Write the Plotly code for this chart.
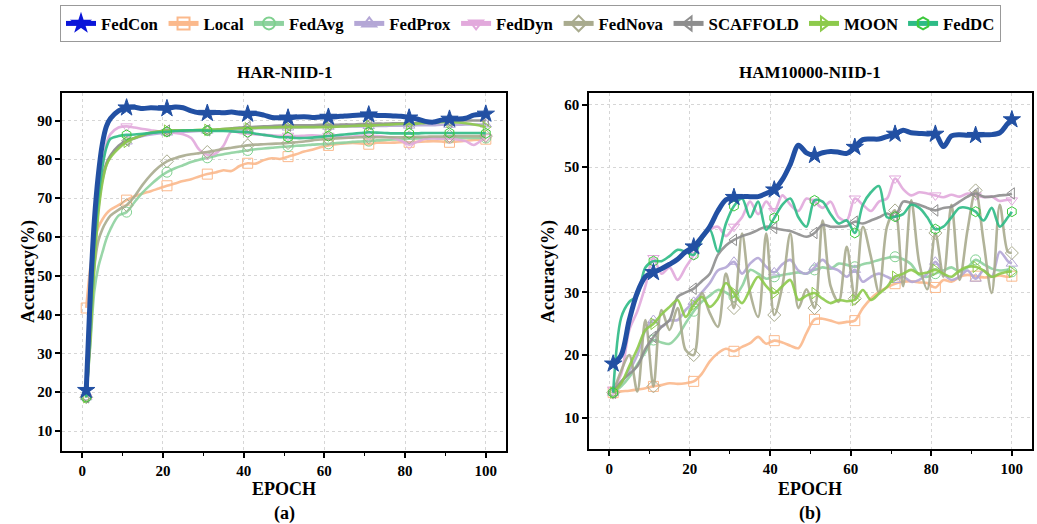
import plotly.graph_objects as go

# ---------------- data ----------------
EPOCHS_L = [1, 2, 3, 4, 5, 6, 7, 9] + list(range(11, 100, 2)) + [100]
EPOCHS_R = list(range(1, 100, 2)) + [100]
MARK_EPOCHS = [1, 11, 21, 31, 41, 51, 61, 71, 81, 91, 100]
X_TICKS = [0, 20, 40, 60, 80, 100]
X_MINOR = [10, 30, 50, 70, 90]

METHODS = ["FedCon", "Local", "FedAvg", "FedProx", "FedDyn", "FedNova", "SCAFFOLD", "MOON", "FedDC"]

# HAR-NIID-1
FedCon_L = [20.5, 45.0, 64.0, 76.0, 84.0, 88.5, 90.5, 92.5,
            93.3, 93.4, 93.1, 93.3, 93.2, 93.1, 93.5, 93.3, 92.5, 92.0,
            91.9, 92.1, 92.0, 92.2, 91.9, 91.7, 91.8, 91.4, 90.8, 90.7,
            90.7, 90.9, 91.0, 90.8, 90.9, 90.9, 91.0, 91.2, 91.3, 91.4,
            91.5, 91.3, 91.3, 91.2, 91.1, 90.7, 90.4, 89.8, 89.6, 90.1,
            90.4, 90.4, 90.6, 91.4, 91.6, 91.7]
Local_L = [41.7, 52.0, 59.0, 62.5, 64.5, 66.0, 67.0, 68.2,
           69.5, 70.5, 71.2, 71.8, 72.5, 73.2, 73.8, 74.4, 74.9, 75.6,
           76.2, 76.6, 77.2, 77.0, 78.3, 79.0, 78.9, 79.8, 80.3, 80.1,
           80.7, 81.3, 82.0, 82.5, 83.1, 83.6, 83.9, 84.1, 84.2, 84.1,
           83.9, 84.3, 84.3, 84.3, 84.4, 84.4, 84.5, 84.6, 84.7, 84.6,
           84.4, 84.6, 84.8, 85.0, 85.1, 85.2]
FedAvg_L = [18.7, 32.0, 46.0, 52.3, 56.0, 59.5, 62.0, 65.5,
            66.4, 69.0, 71.5, 73.5, 75.3, 76.7, 77.7, 78.5, 79.3, 79.9,
            80.4, 80.9, 81.3, 81.7, 82.0, 82.3, 82.6, 82.8, 83.0, 83.2,
            83.3, 83.5, 83.6, 83.8, 83.9, 84.0, 84.2, 84.3, 84.5, 84.6,
            84.7, 84.9, 85.0, 85.1, 85.2, 85.3, 85.4, 85.4, 85.5, 85.5,
            85.5, 85.5, 85.5, 85.5, 85.5, 85.5]
FedProx_L = [18.7, 34.0, 54.0, 67.0, 74.5, 78.5, 80.8, 83.2,
             84.6, 85.4, 86.0, 86.4, 86.7, 86.9, 87.0, 87.1, 87.2, 87.3,
             87.4, 87.5, 87.6, 87.7, 87.8, 87.9, 88.0, 88.0, 88.1, 88.1,
             88.2, 88.2, 88.3, 88.3, 88.4, 88.4, 88.4, 88.5, 88.5, 88.5,
             88.6, 88.6, 88.6, 88.7, 88.7, 88.7, 88.8, 88.8, 88.8, 88.9,
             88.9, 88.9, 89.0, 89.0, 89.0, 89.0]
FedDyn_L = [18.7, 40.0, 58.0, 70.0, 78.0, 84.0, 86.5, 88.2,
            88.5, 88.2, 87.8, 87.5, 87.2, 87.0, 86.8, 86.5, 85.5, 82.5,
            81.2, 81.5, 83.5, 87.2, 86.8, 86.6, 86.4, 86.3, 86.2, 86.1,
            86.1, 86.0, 86.1, 86.2, 86.1, 86.1, 86.0, 85.7, 85.9, 86.1,
            86.1, 86.0, 85.8, 85.5, 84.8, 83.8, 84.5, 85.3, 85.4, 85.3,
            85.3, 85.1, 84.7, 83.7, 85.0, 85.7]
FedNova_L = [18.7, 35.0, 52.0, 59.0, 62.0, 64.0, 65.5, 67.0,
             68.2, 70.5, 73.5, 76.0, 78.0, 79.5, 80.3, 80.9, 81.3, 81.6,
             81.9, 82.3, 82.7, 83.0, 83.3, 83.6, 83.8, 83.9, 84.0, 84.1,
             84.2, 84.4, 84.6, 84.9, 85.1, 85.3, 85.4, 85.5, 85.6, 85.7,
             85.7, 85.7, 85.7, 85.7, 85.7, 85.7, 85.8, 85.8, 85.9, 85.9,
             86.0, 86.0, 86.0, 86.0, 86.0, 86.0]
SCAFFOLD_L = [18.7, 35.0, 55.0, 68.0, 75.0, 79.0, 81.0, 83.5,
              84.8, 85.5, 86.2, 86.8, 87.2, 87.4, 87.5, 87.5, 87.5, 87.5,
              87.5, 87.6, 87.8, 88.0, 88.2, 88.3, 88.4, 88.5, 88.6, 88.7,
              88.7, 88.8, 88.8, 88.8, 88.9, 88.9, 88.9, 89.0, 89.0, 89.1,
              89.1, 89.2, 89.2, 89.3, 89.3, 89.3, 89.4, 89.5, 89.6, 89.7,
              89.8, 89.9, 90.0, 90.0, 90.0, 90.0]
MOON_L = [18.7, 33.0, 52.0, 66.0, 74.0, 78.5, 80.5, 82.8,
          84.5, 85.5, 86.3, 86.9, 87.2, 87.4, 87.5, 87.5, 87.5, 87.6,
          87.6, 87.7, 87.8, 87.9, 88.0, 88.0, 88.1, 88.2, 88.2, 88.3,
          88.3, 88.3, 88.3, 88.3, 88.3, 88.3, 88.4, 88.5, 88.6, 88.7,
          88.7, 88.8, 88.9, 89.0, 89.1, 89.1, 89.2, 89.4, 89.5, 89.6,
          89.6, 89.5, 89.3, 89.0, 88.6, 88.3]
FedDC_L = [18.7, 38.0, 58.0, 70.0, 78.0, 83.0, 85.3, 86.0,
           86.3, 86.4, 86.6, 86.8, 87.0, 87.1, 87.3, 87.4, 87.5, 87.5,
           87.4, 87.3, 87.3, 87.2, 87.1, 87.0, 86.6, 86.3, 86.0, 85.7,
           85.7, 85.5, 85.5, 85.6, 85.8, 86.0, 86.2, 86.4, 86.6, 86.8,
           87.0, 86.9, 86.8, 86.7, 86.7, 86.7, 86.7, 86.8, 86.8, 86.8,
           86.8, 86.8, 86.8, 86.8, 86.8, 86.7]

# HAM10000-NIID-1
FedCon_R = [18.6, 20.0, 25.6, 30.0, 32.5, 33.2, 33.8, 34.5, 35.3, 36.5,
            37.3, 38.8, 40.5, 43.0, 44.8, 45.2, 45.3, 45.3, 45.3, 45.8,
            46.4, 48.0, 50.5, 53.5, 52.3, 51.9, 52.3, 52.5, 52.4, 52.2,
            53.2, 54.4, 54.5, 54.5, 54.9, 55.3, 55.9, 55.5, 55.4, 55.3,
            55.3, 53.3, 55.0, 55.2, 55.1, 55.1, 55.2, 55.2, 55.5, 57.0, 57.6]
Local_R = [14.0, 14.2, 14.3, 14.5, 14.7, 15.0, 15.2, 15.5, 15.4, 15.5,
           15.8, 17.0, 19.0, 20.3, 21.0, 20.6, 21.3, 21.9, 22.9, 21.8,
           22.3, 22.0, 21.5, 21.1, 23.5, 25.7, 25.8, 25.5, 25.1, 25.3,
           25.5, 27.5, 29.0, 30.1, 30.8, 31.4, 31.7, 31.8, 31.6, 31.5,
           30.8, 32.0, 31.7, 32.5, 32.8, 32.6, 32.4, 32.5, 32.7, 32.5, 32.6]
FedAvg_R = [14.0, 15.0, 16.5, 18.5, 20.5, 22.4, 22.0, 21.8, 23.0, 25.1,
            27.0, 28.5, 29.5, 30.4, 30.0, 29.3, 31.0, 33.6, 33.0, 32.2,
            32.5, 32.8, 33.0, 33.2, 33.0, 33.6, 34.0, 33.8, 34.6, 34.4,
            34.1, 34.5, 34.8, 35.2, 35.5, 35.7, 35.3, 34.5, 32.8, 32.5,
            33.0, 33.5, 34.0, 33.3, 34.0, 35.2, 34.5, 33.8, 33.5, 33.6, 33.3]
FedProx_R = [14.0, 15.5, 17.5, 20.0, 24.0, 25.6, 24.5, 25.5, 25.6, 27.2,
             28.5, 30.0, 31.5, 33.5, 34.0, 34.9, 33.0, 34.6, 35.5, 34.1,
             33.2, 34.5, 35.2, 33.5, 33.0, 34.0, 35.2, 34.0, 33.5, 32.5,
             33.6, 31.7, 32.5, 33.0, 32.5, 32.0, 32.5, 31.7, 32.0, 33.0,
             34.9, 33.0, 32.0, 32.5, 33.5, 32.2, 33.5, 32.5, 36.5, 35.0, 34.6]
FedDyn_R = [14.5, 17.0, 24.0, 27.0, 31.0, 35.5, 33.0, 34.0, 32.0, 34.0,
            36.0, 38.5, 40.0, 40.5, 39.0, 40.5, 42.0, 44.5, 42.5, 44.5,
            43.0, 45.5, 44.0, 43.0, 45.0, 44.5, 43.5, 44.5, 42.0, 41.5,
            45.0, 44.0, 43.0, 44.5, 45.0, 48.2, 46.5, 45.5, 46.0, 45.8,
            45.5, 45.2, 45.6, 45.3, 45.8, 45.5, 45.2, 45.3, 44.6, 44.8, 44.7]
FedNova_R = [14.0, 17.5, 20.0, 14.2, 25.6, 15.0, 27.2, 24.0, 27.5, 20.8,
             20.0, 29.9, 26.7, 24.5, 33.0, 27.5, 39.4, 30.0, 26.1, 39.4,
             26.4, 31.0, 39.4, 27.5, 30.5, 27.5, 41.5, 31.0, 28.5, 37.3,
             29.0, 40.5, 35.7, 30.0, 40.5, 43.1, 31.0, 44.7, 34.7, 30.5,
             39.5, 32.5, 44.0, 32.0, 40.0, 46.3, 38.0, 29.9, 44.0, 36.5, 36.3]
SCAFFOLD_R = [14.0, 15.8, 17.0, 18.2, 21.0, 22.9, 24.5, 25.6, 29.3, 30.0,
              30.6, 31.8, 33.0, 36.0, 37.5, 38.4, 39.0, 39.4, 40.0, 40.5,
              40.3, 40.0, 39.8, 39.3, 38.9, 39.5, 40.8, 40.5, 40.5, 40.6,
              41.3, 41.0, 41.5, 42.0, 42.6, 42.1, 44.5, 44.3, 44.0, 43.5,
              43.1, 43.5, 43.7, 44.5, 45.3, 45.8, 45.3, 45.3, 45.5, 45.6, 45.8]
MOON_R = [14.0, 15.5, 18.2, 21.0, 24.0, 25.0, 26.5, 27.7, 28.8, 26.1,
          28.0, 29.3, 27.7, 29.0, 31.5, 29.9, 28.3, 30.5, 32.5, 31.0,
          29.9, 31.0, 32.0, 28.8, 29.5, 29.9, 29.0, 28.3, 28.8, 28.6,
          28.8, 30.4, 28.8, 29.8, 30.9, 32.5, 33.0, 33.6, 33.0, 33.2,
          33.6, 33.0, 32.5, 33.5, 34.1, 34.1, 33.5, 32.5, 33.0, 33.3, 33.3]
FedDC_R = [14.0, 26.0, 28.5, 29.5, 34.0, 35.0, 35.0, 35.8, 36.8, 36.5,
           36.0, 38.5, 40.0, 36.5, 41.0, 43.8, 45.0, 42.0, 44.5, 40.0,
           41.9, 44.0, 45.0, 42.0, 40.5, 44.7, 44.5, 42.5, 41.0, 41.5,
           39.5, 44.0, 46.0, 47.0, 42.0, 42.1, 42.5, 44.0, 43.5, 42.0,
           40.1, 40.5, 42.0, 43.5, 43.5, 42.9, 41.5, 43.5, 40.5, 42.0, 42.9]

DATA_L = {"FedCon": FedCon_L, "Local": Local_L, "FedAvg": FedAvg_L, "FedProx": FedProx_L,
          "FedDyn": FedDyn_L, "FedNova": FedNova_L, "SCAFFOLD": SCAFFOLD_L, "MOON": MOON_L,
          "FedDC": FedDC_L}
DATA_R = {"FedCon": FedCon_R, "Local": Local_R, "FedAvg": FedAvg_R, "FedProx": FedProx_R,
          "FedDyn": FedDyn_R, "FedNova": FedNova_R, "SCAFFOLD": SCAFFOLD_R, "MOON": MOON_R,
          "FedDC": FedDC_R}

# ---------------- styles ----------------
COLORS = {"FedCon": "#2250a3", "Local": "#fbb98c", "FedAvg": "#8ed29f", "FedProx": "#b4a7d6",
          "FedDyn": "#e2a9dc", "FedNova": "#a9ab8e", "SCAFFOLD": "#8e8e8e", "MOON": "#8dca4c",
          "FedDC": "#2dbb86"}
LEGEND_COLORS = dict(COLORS, FedCon="#0b16d9")
SYMBOLS = {"FedCon": "star", "Local": "square-open", "FedAvg": "circle-open",
           "FedProx": "triangle-up-open", "FedDyn": "triangle-down-open",
           "FedNova": "diamond-open", "SCAFFOLD": "triangle-left-open",
           "MOON": "triangle-right-open", "FedDC": "hexagon-open"}
MARKER_COLORS = dict(COLORS, FedDC="#3cc83c", FedAvg="#7fd08f")

FONT = "Liberation Serif"
W, H = 1037, 524

fig = go.Figure()

# legend entries
for m in METHODS:
    big = m == "FedCon"
    fig.add_trace(go.Scatter(
        x=[None], y=[None], name=m, mode="lines+markers",
        line=dict(color=LEGEND_COLORS[m], width=5 if big else 3),
        marker=dict(symbol=SYMBOLS[m], size=13 if big else 11,
                    color=LEGEND_COLORS[m] if big else MARKER_COLORS[m],
                    line=dict(color=LEGEND_COLORS[m] if big else MARKER_COLORS[m], width=1)),
        xaxis="x", yaxis="y", showlegend=True, hoverinfo="skip"))

draw_order = METHODS[1:] + ["FedCon"]
for xa, ya, epochs, data in [("x", "y", EPOCHS_L, DATA_L), ("x2", "y2", EPOCHS_R, DATA_R)]:
    for m in draw_order:
        vals = data[m]
        big = m == "FedCon"
        fig.add_trace(go.Scatter(
            x=epochs, y=vals, mode="lines", showlegend=False,
            line=dict(color=COLORS[m], width=5 if big else 2.6, shape="spline", smoothing=0.9),
            opacity=1.0 if big else 0.9, xaxis=xa, yaxis=ya, hoverinfo="skip"))
        mx = [e for e in MARK_EPOCHS if e in epochs]
        my = [vals[epochs.index(e)] for e in mx]
        fig.add_trace(go.Scatter(
            x=mx, y=my, mode="markers", showlegend=False,
            marker=dict(symbol=SYMBOLS[m], size=13 if big else 10,
                        color=COLORS[m] if big else MARKER_COLORS[m],
                        line=dict(color=COLORS[m] if big else MARKER_COLORS[m], width=1)),
            xaxis=xa, yaxis=ya, hoverinfo="skip"))

tickfont = dict(family=FONT, size=15, color="black", weight="bold")
common_x = dict(range=[-5, 105], tickvals=X_TICKS, ticks="outside", ticklen=5, tickwidth=1.5,
                tickcolor="black", showline=True, linecolor="black", linewidth=1.5, mirror=True,
                showgrid=True, gridcolor="#d6d6d6", griddash="dot", gridwidth=1, zeroline=False,
                tickfont=tickfont,
                minor=dict(tickvals=X_MINOR, ticks="outside", ticklen=3, tickwidth=1.2,
                           tickcolor="black", showgrid=False))
common_y = dict(ticks="outside", ticklen=5, tickwidth=1.5, tickcolor="black", dtick=10, tick0=0,
                showline=True, linecolor="black", linewidth=1.5, mirror=True,
                showgrid=True, gridcolor="#d6d6d6", griddash="dot", gridwidth=1, zeroline=False,
                tickfont=tickfont)

fig.update_layout(
    width=W, height=H, margin=dict(l=0, r=0, t=0, b=0),
    paper_bgcolor="white", plot_bgcolor="white",
    font=dict(family=FONT),
    xaxis=dict(domain=[62 / W, 506 / W], anchor="y", **common_x),
    yaxis=dict(domain=[1 - 451 / H, 1 - 93 / H], anchor="x", range=[4.85, 97.1], **common_y),
    xaxis2=dict(domain=[589 / W, 1032 / W], anchor="y2", **common_x),
    yaxis2=dict(domain=[1 - 449 / H, 1 - 93 / H], anchor="x2", range=[5.0, 61.85], **common_y),
    legend=dict(orientation="h", x=60 / W, y=1 - 5 / H, xanchor="left", yanchor="top",
                bordercolor="#999999", borderwidth=1, bgcolor="white",
                font=dict(family=FONT, size=16.8, color="black", weight="bold"),
                itemsizing="constant", tracegroupgap=0),
    showlegend=True,
)

ann_font = dict(family=FONT, color="black", weight="bold")
annotations = [
    dict(text="HAR-NIID-1", x=284 / W, y=1 - 72 / H, size=17),
    dict(text="HAM10000-NIID-1", x=810 / W, y=1 - 72 / H, size=17),
    dict(text="EPOCH", x=284 / W, y=1 - 489 / H, size=18),
    dict(text="EPOCH", x=810 / W, y=1 - 489 / H, size=18),
    dict(text="(a)", x=284 / W, y=1 - 513 / H, size=18),
    dict(text="(b)", x=810 / W, y=1 - 513 / H, size=18),
]
for a in annotations:
    fig.add_annotation(text=a["text"], x=a["x"], y=a["y"], xref="paper", yref="paper",
                       xanchor="center", yanchor="middle", showarrow=False,
                       font=dict(size=a["size"], **ann_font))
for xp in [28, 548]:
    fig.add_annotation(text="Accuracy(%)", x=xp / W, y=1 - 272 / H, xref="paper", yref="paper",
                       xanchor="center", yanchor="middle", showarrow=False, textangle=-90,
                       font=dict(size=18, **ann_font))

fig.write_html("out.html")
